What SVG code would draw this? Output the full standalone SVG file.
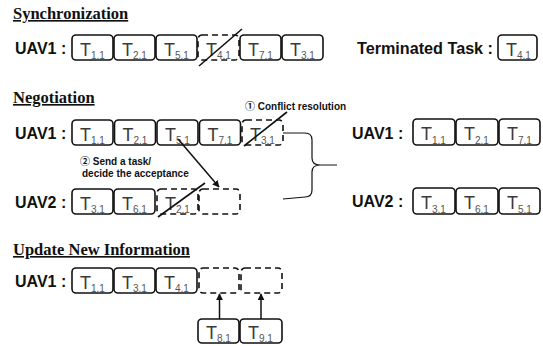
<svg xmlns="http://www.w3.org/2000/svg" width="543" height="346" viewBox="0 0 543 346">
<style>
.bg{fill:#fff}
.title{font-family:"Liberation Serif","Times New Roman",serif;font-weight:bold;font-size:16.5px;fill:#111;text-decoration:underline}
.uav{font-family:"Liberation Sans",Arial,sans-serif;font-weight:bold;font-size:16px;fill:#111}
.note{font-family:"Liberation Sans",Arial,"Noto Sans CJK KR",sans-serif;font-weight:bold;font-size:10px;fill:#111}
.box{fill:#fff;stroke:#111;stroke-width:1.6}
.dbox{fill:#fff;stroke:#111;stroke-width:1.6;stroke-dasharray:6 4}
.t{font-family:"Liberation Sans",Arial,sans-serif;font-size:18px;fill:#3a3a3a}
.sub{font-size:10px;fill:#555}
.slash{stroke:#111;stroke-width:1.6;fill:none}
.conn{stroke:#111;stroke-width:1.5;fill:none}
.brace{stroke:#111;stroke-width:1.2;fill:none}
</style>
<defs>
<marker id="ah" viewBox="0 0 10 10" refX="9" refY="5" markerWidth="7" markerHeight="7" orient="auto" markerUnits="userSpaceOnUse">
<path d="M0,0 L10,5 L0,10 z" fill="#111"/>
</marker>
</defs>
<rect class="bg" x="0" y="0" width="543" height="346"/>

<g id="sync">
<text class="title" x="13" y="19">Synchronization</text>
<text class="uav" x="15" y="54">UAV1 :</text>
<g id="s1"><rect class="box" x="72" y="35" width="41" height="25" rx="4"/><text class="t" x="80" y="55.5">T<tspan class="sub" dy="3.5">1,1</tspan></text></g>
<g id="s2"><rect class="box" x="114" y="35" width="41" height="25" rx="4"/><text class="t" x="122" y="55.5">T<tspan class="sub" dy="3.5">2,1</tspan></text></g>
<g id="s3"><rect class="box" x="156" y="35" width="41" height="25" rx="4"/><text class="t" x="164" y="55.5">T<tspan class="sub" dy="3.5">5,1</tspan></text></g>
<g id="s4"><rect class="dbox" x="198" y="35" width="41" height="25" rx="4"/><text class="t" x="206" y="55.5">T<tspan class="sub" dy="3.5">4,1</tspan></text><line class="slash" x1="199" y1="66" x2="242" y2="29"/></g>
<g id="s5"><rect class="box" x="240" y="35" width="41" height="25" rx="4"/><text class="t" x="248" y="55.5">T<tspan class="sub" dy="3.5">7,1</tspan></text></g>
<g id="s6"><rect class="box" x="282" y="35" width="41" height="25" rx="4"/><text class="t" x="290" y="55.5">T<tspan class="sub" dy="3.5">3,1</tspan></text></g>
<text class="uav" x="357" y="54" textLength="136" lengthAdjust="spacingAndGlyphs">Terminated Task :</text>
<g id="term"><rect class="box" x="498" y="35" width="39" height="25" rx="4"/><text class="t" x="506" y="55.5">T<tspan class="sub" dy="3.5">4,1</tspan></text></g>
</g>

<g id="nego">
<text class="title" x="13" y="103">Negotiation</text>
<text class="note" x="245" y="110">① Conflict resolution</text>
<text class="note" x="80" y="165">② Send a task/</text>
<text class="note" x="82" y="177">decide the acceptance</text>
<text class="uav" x="15" y="139">UAV1 :</text>
<g id="n1"><rect class="box" x="72" y="120" width="41" height="25" rx="4"/><text class="t" x="80" y="140.5">T<tspan class="sub" dy="3.5">1,1</tspan></text></g>
<g id="n2"><rect class="box" x="114.5" y="120" width="41" height="25" rx="4"/><text class="t" x="122.5" y="140.5">T<tspan class="sub" dy="3.5">2,1</tspan></text></g>
<g id="n3"><rect class="box" x="157" y="120" width="41" height="25" rx="4"/><text class="t" x="165" y="140.5">T<tspan class="sub" dy="3.5">5,1</tspan></text></g>
<g id="n4"><rect class="box" x="199.5" y="120" width="41" height="25" rx="4"/><text class="t" x="207.5" y="140.5">T<tspan class="sub" dy="3.5">7,1</tspan></text></g>
<g id="n5"><rect class="dbox" x="242" y="120" width="41" height="25" rx="4"/><text class="t" x="250" y="140.5">T<tspan class="sub" dy="3.5">3,1</tspan></text><line class="slash" x1="244" y1="146" x2="287" y2="112"/></g>
<text class="uav" x="15" y="208">UAV2 :</text>
<g id="m1"><rect class="box" x="72" y="189" width="41" height="25" rx="4"/><text class="t" x="80" y="209.5">T<tspan class="sub" dy="3.5">3,1</tspan></text></g>
<g id="m2"><rect class="box" x="114" y="189" width="41" height="25" rx="4"/><text class="t" x="122" y="209.5">T<tspan class="sub" dy="3.5">6,1</tspan></text></g>
<g id="m3"><rect class="dbox" x="157" y="189" width="41" height="25" rx="4"/><text class="t" x="165" y="209.5">T<tspan class="sub" dy="3.5">2,1</tspan></text><line class="slash" x1="158" y1="217" x2="205" y2="183"/></g>
<g id="m4"><rect class="dbox" x="199" y="189" width="41" height="25" rx="4"/></g>
<text class="uav" x="352" y="139">UAV1 :</text>
<g id="r1"><rect class="box" x="413" y="119" width="42" height="26" rx="4"/><text class="t" x="421" y="140">T<tspan class="sub" dy="3.5">1,1</tspan></text></g>
<g id="r2"><rect class="box" x="456" y="119" width="42" height="26" rx="4"/><text class="t" x="464" y="140">T<tspan class="sub" dy="3.5">2,1</tspan></text></g>
<g id="r3"><rect class="box" x="499" y="119" width="41" height="26" rx="4"/><text class="t" x="507" y="140">T<tspan class="sub" dy="3.5">7,1</tspan></text></g>
<text class="uav" x="352" y="207">UAV2 :</text>
<g id="q1"><rect class="box" x="413" y="188" width="42" height="26" rx="4"/><text class="t" x="421" y="209">T<tspan class="sub" dy="3.5">3,1</tspan></text></g>
<g id="q2"><rect class="box" x="456" y="188" width="42" height="26" rx="4"/><text class="t" x="464" y="209">T<tspan class="sub" dy="3.5">6,1</tspan></text></g>
<g id="q3"><rect class="box" x="499" y="188" width="41" height="26" rx="4"/><text class="t" x="507" y="209">T<tspan class="sub" dy="3.5">5,1</tspan></text></g>
</g>

<g id="update">
<text class="title" x="13" y="255">Update New Information</text>
<text class="uav" x="15" y="287">UAV1 :</text>
<g id="u1"><rect class="box" x="72" y="268" width="41" height="25" rx="4"/><text class="t" x="80" y="288.5">T<tspan class="sub" dy="3.5">1,1</tspan></text></g>
<g id="u2"><rect class="box" x="114" y="268" width="41" height="25" rx="4"/><text class="t" x="122" y="288.5">T<tspan class="sub" dy="3.5">3,1</tspan></text></g>
<g id="u3"><rect class="box" x="156" y="268" width="41" height="25" rx="4"/><text class="t" x="164" y="288.5">T<tspan class="sub" dy="3.5">4,1</tspan></text></g>
<g id="u4"><rect class="dbox" x="199" y="268" width="40" height="25" rx="4"/></g>
<g id="u5"><rect class="dbox" x="241" y="268" width="41" height="25" rx="4"/></g>
<g id="t8"><rect class="box" x="198" y="319" width="41" height="24" rx="4"/><text class="t" x="206" y="338.5">T<tspan class="sub" dy="3.5">8,1</tspan></text></g>
<g id="t9"><rect class="box" x="240" y="319" width="42" height="24" rx="4"/><text class="t" x="248" y="338.5">T<tspan class="sub" dy="3.5">9,1</tspan></text></g>
</g>

<g id="connectors">
<line class="conn" x1="178" y1="139" x2="219" y2="187" marker-end="url(#ah)"/>
<path class="brace" d="M283 133 L305 133 Q312 133 312 140 L312 158 Q312 165 320 165 L337 165 M320 165 Q312 165 312 172 L312 190 Q312 197 305 197 L283 199"/>
<line class="conn" x1="219.5" y1="319" x2="219.5" y2="294" marker-end="url(#ah)"/>
<line class="conn" x1="261" y1="319" x2="261" y2="294" marker-end="url(#ah)"/>
</g>
</svg>
